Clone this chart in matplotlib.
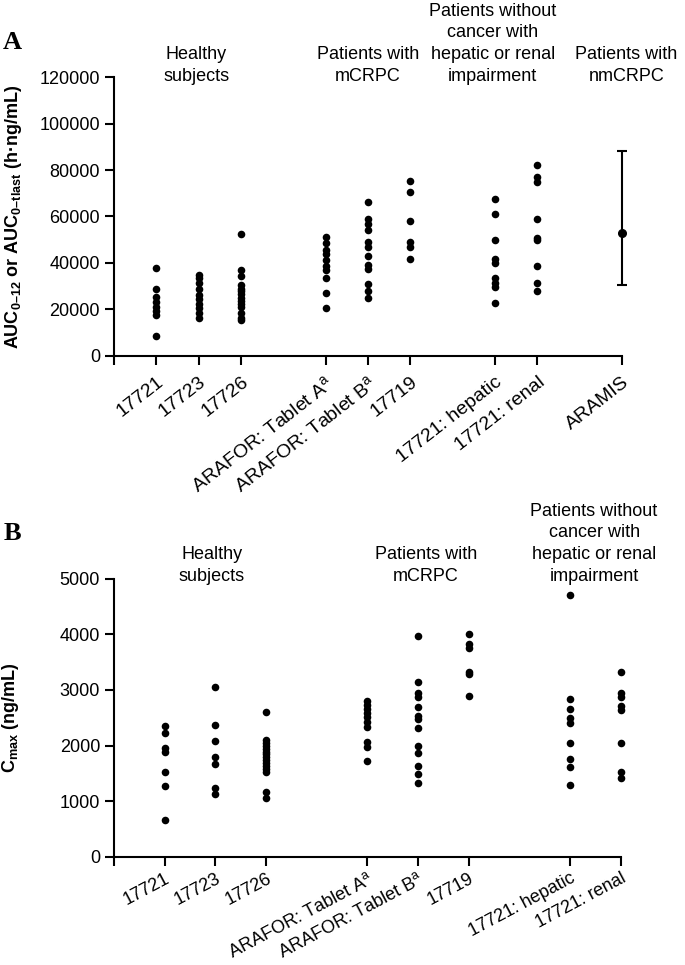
import matplotlib
matplotlib.use("Agg")
import matplotlib.pyplot as plt

plt.rcParams["font.family"] = ["Liberation Sans", "DejaVu Sans"]
plt.rcParams["mathtext.fontset"] = "custom"
plt.rcParams["mathtext.rm"] = "Liberation Sans"
plt.rcParams["mathtext.bf"] = "Liberation Sans:bold"

# ---- data: panel A, AUC (h·ng/mL) ----
studies_a = ["17721", "17723", "17726", r"ARAFOR: Tablet A$^{\mathrm{a}}$",
             r"ARAFOR: Tablet B$^{\mathrm{a}}$", "17719", "17721: hepatic",
             "17721: renal", "ARAMIS"]
xpos_a = [1, 2, 3, 5, 6, 7, 9, 10, 12]

auc_17721 = [37800, 28700, 25500, 23200, 21200, 19500, 17800, 8500]
auc_17723 = [35000, 33400, 31300, 28700, 26200, 24400, 22400, 20500, 18400, 16200]
auc_17726 = [52400, 36900, 34400, 30500, 29000, 27800, 26500, 25000, 23500, 22300,
             20900, 18400, 16200, 15500]
auc_tab_a = [51300, 48500, 45600, 43800, 41400, 38600, 37000, 33600, 27200, 20700]
auc_tab_b = [66100, 58900, 56800, 54300, 49200, 46800, 43000, 39200, 37400, 31000,
             28100, 24800]
auc_17719 = [75400, 70400, 58200, 49200, 47000, 41700]
auc_hepatic = [67500, 61000, 49900, 41600, 40200, 33400, 31500, 29800, 22900]
auc_renal = [82100, 76900, 74700, 58800, 50600, 49900, 38700, 31500, 28100]
aramis_mean = 53000
aramis_low = 30500
aramis_high = 88300

auc_groups = [auc_17721, auc_17723, auc_17726, auc_tab_a, auc_tab_b, auc_17719,
              auc_hepatic, auc_renal]

# ---- data: panel B, Cmax (ng/mL) ----
studies_b = studies_a[:-1]
xpos_b = [1, 2, 3, 5, 6, 7, 9, 10]

cmax_17721 = [2360, 2220, 1960, 1890, 1530, 1280, 660]
cmax_17723 = [3050, 2370, 2080, 1800, 1660, 1230, 1130]
cmax_17726 = [2600, 2100, 2040, 1990, 1940, 1890, 1840, 1790, 1740, 1690, 1640, 1580,
              1530, 1160, 1060]
cmax_tab_a = [2800, 2730, 2650, 2580, 2510, 2430, 2340, 2070, 1980, 1720]
cmax_tab_b = [3970, 3150, 2940, 2870, 2700, 2530, 2470, 2310, 1990, 1870, 1630,
              1480, 1330]
cmax_17719 = [4000, 3830, 3750, 3330, 3290, 2890]
cmax_hepatic = [4710, 2830, 2650, 2490, 2410, 2040, 1750, 1610, 1290]
cmax_renal = [3330, 2950, 2880, 2710, 2640, 2040, 1530, 1410]

cmax_groups = [cmax_17721, cmax_17723, cmax_17726, cmax_tab_a, cmax_tab_b, cmax_17719,
               cmax_hepatic, cmax_renal]

# group headers: (text, x in data units)
headers_a = [("Healthy\nsubjects", 1.95),
             ("Patients with\nmCRPC", 6.0),
             ("Patients without\ncancer with\nhepatic or renal\nimpairment", 8.95),
             ("Patients with\nnmCRPC", 12.1)]
headers_b = [("Healthy\nsubjects", 1.93),
             ("Patients with\nmCRPC", 6.15),
             ("Patients without\ncancer with\nhepatic or renal\nimpairment", 9.47)]

FS = 13

fig = plt.figure(figsize=(6.85, 9.65), dpi=100)
ax_a = fig.add_axes([0.1664, 0.6311, 0.7416, 0.2891])
ax_b = fig.add_axes([0.1664, 0.1122, 0.7401, 0.2881])


def style_axis(ax, xmax, ymax, ystep, xpos, labels, rot, xfs, pad):
    for side in ("top", "right"):
        ax.spines[side].set_visible(False)
    for side in ("left", "bottom"):
        ax.spines[side].set_linewidth(1.5)
    ax.set_xlim(0, xmax)
    ax.set_ylim(0, ymax)
    ax.set_yticks(range(0, ymax + 1, ystep))
    ax.set_xticks([0] + xpos)
    ax.set_xticklabels([""] + labels, rotation=rot, ha="right",
                       rotation_mode="anchor", fontsize=xfs)
    ax.tick_params(axis="both", width=1.5, length=6.5, color="black")
    ax.tick_params(axis="y", labelsize=FS)
    ax.tick_params(axis="x", pad=pad)


# panel A
for x, vals in zip(xpos_a[:-1], auc_groups):
    ax_a.scatter([x] * len(vals), vals, s=30, color="black", zorder=3, linewidths=0,
                 clip_on=False)
ax_a.errorbar([xpos_a[-1]], [aramis_mean],
              yerr=[[aramis_mean - aramis_low], [aramis_high - aramis_mean]],
              fmt="o", color="black", ms=5.5, capsize=3.8, elinewidth=1.5,
              capthick=1.5, zorder=3, clip_on=False)
style_axis(ax_a, 12, 120000, 20000, xpos_a, studies_a, 38, 14, 6)
ax_a.set_ylabel(r"AUC$_{\mathbf{0–12}}$ or AUC$_{\mathbf{0–tlast}}$ (h·ng/mL)",
                fontsize=FS, fontweight="bold")
ax_a.yaxis.set_label_coords(-0.178, 0.5)
for text, x in headers_a:
    ax_a.text(x, 0.972, text, transform=ax_a.get_xaxis_transform(), ha="center",
              va="bottom", fontsize=FS, linespacing=1.36)

# panel B
for x, vals in zip(xpos_b, cmax_groups):
    ax_b.scatter([x] * len(vals), vals, s=30, color="black", zorder=3, linewidths=0,
                 clip_on=False)
style_axis(ax_b, 10, 5000, 1000, xpos_b, studies_b, 28, 13, 3)
ax_b.set_ylabel(r"C$_{\mathbf{max}}$ (ng/mL)", fontsize=FS, fontweight="bold")
ax_b.yaxis.set_label_coords(-0.183, 0.5)
for text, x in headers_b:
    ax_b.text(x, 0.978, text, transform=ax_b.get_xaxis_transform(), ha="center",
              va="bottom", fontsize=FS, linespacing=1.36)

fig.text(0.004, 0.949, "A", fontsize=19, fontweight="bold", family="Liberation Serif")
fig.text(0.006, 0.440, "B", fontsize=19, fontweight="bold", family="Liberation Serif")

fig.savefig("out.png", dpi=100)
